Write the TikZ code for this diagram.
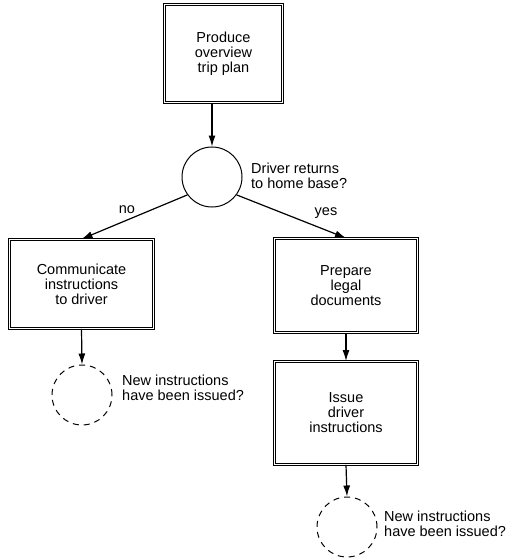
\documentclass[tikz,border=0pt]{standalone}
\usepackage{fontspec}
\setmainfont{Liberation Sans}
\usetikzlibrary{arrows.meta}
\begin{document}
\begin{tikzpicture}[x=1pt,y=-1pt,
  every node/.style={font=\fontsize{14.5}{15}\selectfont},
  taskbox/.style={draw, double, line width=0.9pt, double distance=1.8pt,
    rectangle, inner sep=0pt, align=center},
  decision/.style={draw, circle, line width=1pt, minimum size=60pt, inner sep=0pt},
  pending/.style={decision, dash pattern=on 6pt off 5pt},
  flow/.style={line width=1.2pt, -{Latex[length=11pt,width=7pt]}},
  note/.style={anchor=west, align=left, inner sep=0pt}]
\useasboundingbox (0,0) rectangle (513,559);

% activities
\node[taskbox, minimum width=118pt, minimum height=98pt] (b1) at (223.5,53.5)
  {Produce\\overview\\trip plan};
\node[taskbox, minimum width=144pt, minimum height=89pt] (b2) at (81.5,284)
  {Communicate\\instructions\\to driver};
\node[taskbox, minimum width=143pt, minimum height=94pt] (b3) at (346,285.5)
  {Prepare\\legal\\documents};
\node[taskbox, minimum width=143pt, minimum height=103pt] (b4) at (346,413)
  {\\[-6pt]Issue\\driver\\instructions};

% decisions
\node[decision] (c1) at (212,177) {};
\node[pending] (d1) at (82,395) {};
\node[pending] (d2) at (347,527) {};

% questions
\node[note] (q1) at (251,176) {Driver returns\\to home base?};
\node[note] (q2) at (122,388) {New instructions\\have been issued?};
\node[note] (q3) at (384,524) {New instructions\\have been issued?};

% branch labels
\node (no) at (127,210) {no};
\node (yes) at (326,213) {yes};

% connectors
\draw[flow] (b1.south -| c1.north) -- (c1.north);
\draw[flow] (c1.216) -- (b2.north);
\draw[flow] (c1.-36) -- (b3.north);
\draw[flow] (b2.south) -- (d1.north);
\draw[flow] (b3.south) -- (b4.north);
\draw[flow] (b4.south) -- (d2.north);
\end{tikzpicture}
\end{document}
